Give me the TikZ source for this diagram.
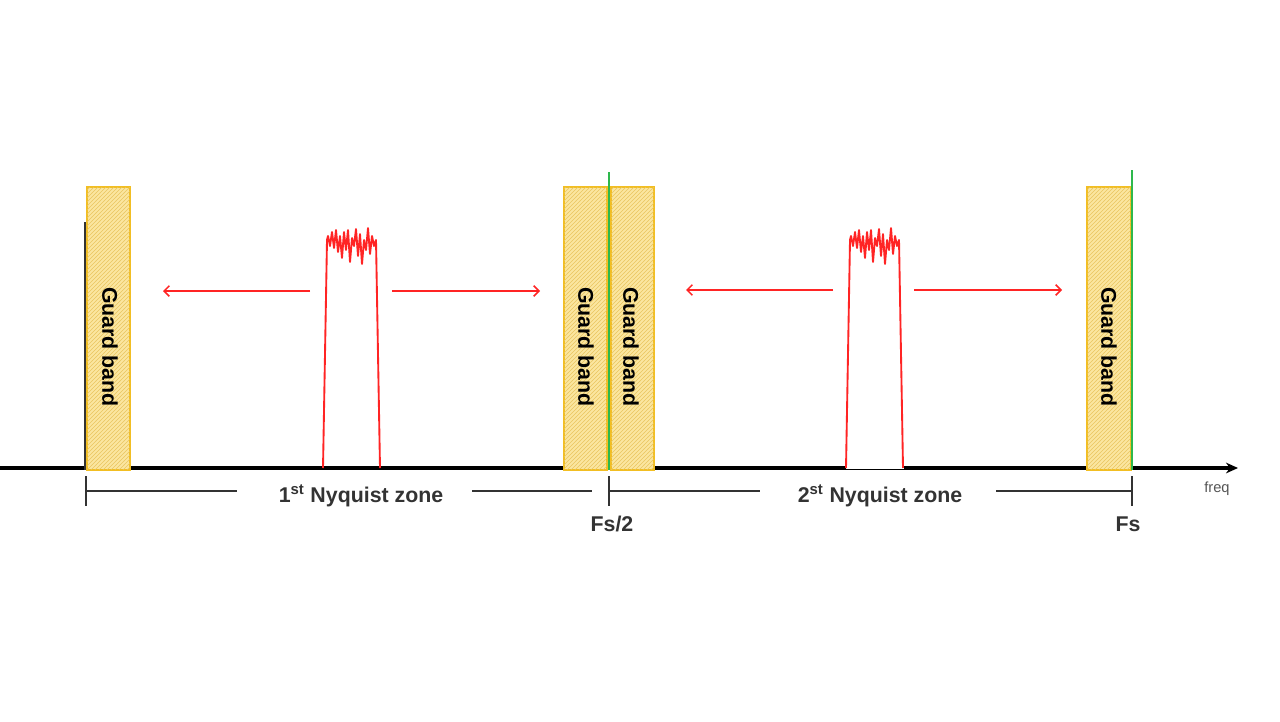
\documentclass[tikz,border=0pt]{standalone}
\usepackage{fontspec}
\setmainfont{Liberation Sans}
\usetikzlibrary{arrows.meta,patterns}
\definecolor{gbfill}{HTML}{FBE6A0}
\definecolor{gbline}{HTML}{F2BE22}
\definecolor{gbhatch}{HTML}{E9C560}
\definecolor{sigred}{HTML}{FF2424}
\definecolor{fsgreen}{HTML}{2EB84C}
\definecolor{dimgray}{HTML}{333333}
\definecolor{freqgray}{HTML}{555555}
\tikzset{
  gband/.style={draw=gbline, line width=1.3pt, fill=gbfill,
    postaction={pattern=north east lines, pattern color=gbhatch},
    minimum width=32.5pt, minimum height=212pt, inner sep=0pt},
  gbtext/.style={rotate=-90, font=\bfseries\fontsize{16}{18}\selectfont, text=black, inner sep=0pt},
  sig/.style={draw=sigred, line width=1.4pt, line join=round},
  shiftarrow/.style={draw=sigred, line width=1.1pt, -{Straight Barb[length=4pt,width=8pt]}},
  dimline/.style={draw=dimgray, line width=1.3pt},
  zonetext/.style={font=\bfseries\fontsize{16}{18}\selectfont, text=dimgray, inner sep=0pt},
  fsline/.style={draw=fsgreen, line width=1.8pt},
  signal/.pic={
    \draw[sig] (0,0) -- (4,-228) -- (5,-232) -- (7,-222) -- (9,-236) -- (11,-220) -- (13,-238)
      -- (15,-216) -- (17,-232) -- (19,-210) -- (21,-236) -- (23,-218) -- (25,-238)
      -- (27,-206) -- (29,-230) -- (31,-222) -- (33,-239) -- (35,-212) -- (37,-234)
      -- (39,-204) -- (41,-228) -- (43,-218) -- (45,-240) -- (47,-214) -- (49,-232)
      -- (51,-222) -- (53,-228) -- (57,0);
  }
}
\begin{document}
\begin{tikzpicture}[x=0.75pt,y=-0.75pt]
\useasboundingbox[fill=white] (0,0) rectangle (1280,721);

% axis
\coordinate (a0) at (0,468);
\coordinate (a1) at (846,468);
\coordinate (a2) at (904,468);
\coordinate (a3) at (1238,468);
\coordinate (b1) at (846,469.8);
\coordinate (b2) at (904,469.8);
\draw[line width=2.6pt, black] (a0) -- (a1);
\draw[line width=0.8pt, black] (b1) -- (b2);
\draw[line width=2.6pt, black, -{Stealth[length=9pt,width=8pt]}] (a2) -- (a3);

% guard bands
\node[gband] (gb1) at (108.5,328.5) {};
\node[gband] (gb2) at (585.5,328.5) {};
\node[gband] (gb3) at (632.5,328.5) {};
\node[gband] (gb4) at (1109,328.5) {};
\node[gbtext] (gt1) at (110,347) {Guard band};
\node[gbtext] (gt2) at (586,347) {Guard band};
\node[gbtext] (gt3) at (631,347) {Guard band};
\node[gbtext] (gt4) at (1109,347) {Guard band};

% left boundary line
\coordinate (l0) at (85,222);
\coordinate (l1) at (85,470);
\draw[draw=dimgray, line width=1.8pt] (l0) -- (l1);

% green Fs lines
\coordinate (g1a) at (609,172);
\coordinate (g1b) at (609,470);
\coordinate (g2a) at (1132,170);
\coordinate (g2b) at (1132,470);
\draw[fsline] (g1a) -- (g1b);
\draw[fsline] (g2a) -- (g2b);

% signals
\pic at (323,468) {signal};
\pic at (846,468) {signal};

% shift arrows
\coordinate (r1s) at (310,291); \coordinate (r1e) at (163,291);
\coordinate (r2s) at (392,291); \coordinate (r2e) at (540,291);
\coordinate (r3s) at (833,290); \coordinate (r3e) at (686,290);
\coordinate (r4s) at (914,290); \coordinate (r4e) at (1062,290);
\draw[shiftarrow] (r1s) -- (r1e);
\draw[shiftarrow] (r2s) -- (r2e);
\draw[shiftarrow] (r3s) -- (r3e);
\draw[shiftarrow] (r4s) -- (r4e);

% dimension lines
\node[zonetext] (z1) at (361,496) {1\textsuperscript{st} Nyquist zone};
\node[zonetext] (z2) at (880,496) {2\textsuperscript{st} Nyquist zone};
\node[zonetext] (fs2) at (612,524) {Fs/2};
\node[zonetext] (fs) at (1128,524) {Fs};
\node[font=\fontsize{11}{12}\selectfont, text=freqgray, inner sep=0pt] (fq) at (1217,489) {freq};

\coordinate (t1a) at (86,476); \coordinate (t1b) at (86,506);
\coordinate (t2a) at (609,476); \coordinate (t2b) at (609,506);
\coordinate (t3a) at (1132,476); \coordinate (t3b) at (1132,506);
\draw[dimline] (t1a) -- (t1b);
\draw[dimline] (t2a) -- (t2b);
\draw[dimline] (t3a) -- (t3b);
\coordinate (d1a) at (86,491); \coordinate (d1b) at (237,491);
\coordinate (d2a) at (472,491); \coordinate (d2b) at (592,491);
\coordinate (d3a) at (609,491); \coordinate (d3b) at (760,491);
\coordinate (d4a) at (996,491); \coordinate (d4b) at (1132,491);
\draw[dimline] (d1a) -- (d1b);
\draw[dimline] (d2a) -- (d2b);
\draw[dimline] (d3a) -- (d3b);
\draw[dimline] (d4a) -- (d4b);
\end{tikzpicture}
\end{document}
